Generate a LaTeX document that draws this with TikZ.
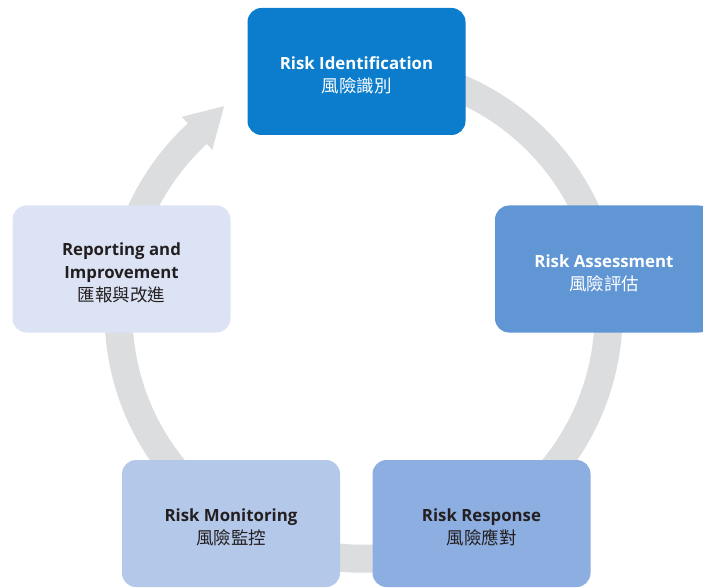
\documentclass[tikz,border=0pt]{standalone}
\usepackage{fontspec}
\setmainfont{Open Sans}
\newfontfamily\cjk{Noto Sans CJK TC}
\newcommand{\zh}{\cjk\fontsize{17.5}{23}\selectfont}
\newcommand{\stagetext}[2]{\rule{0pt}{21pt}#1\\\zh #2}
\usetikzlibrary{arrows.meta,calc}
\definecolor{identblue}{RGB}{11,125,204}
\definecolor{assessblue}{RGB}{96,150,212}
\definecolor{respondblue}{RGB}{141,174,224}
\definecolor{monitorblue}{RGB}{180,200,233}
\definecolor{reportblue}{RGB}{220,227,244}
\definecolor{ringgrey}{RGB}{220,221,223}
\definecolor{ink}{RGB}{35,31,32}
\begin{document}
\begin{tikzpicture}[x=1pt, y=1pt,
  stage/.style={rounded corners=14pt, minimum width=218pt, minimum height=127pt,
    inner sep=0pt, align=center, text=ink, font=\fontsize{16.8}{23}\selectfont},
  ring/.style={line width=28pt, ringgrey}]
\clip (0,0) rectangle (703,587);
\coordinate (hub) at (363.5,273.3);
% grey cycle with its arrow head
\draw[ring] (hub) ++(100:245) arc[start angle=100, end angle=-227.6, radius=245];
\fill[ringgrey] ($(hub)+(132.7:268)$) -- ($(hub)+(123.9:250)$) -- ($(hub)+(132.7:223)$) -- cycle;
% the five stages
\node[stage, fill=identblue, text=white] (ident) at (356.5,515.5) {\stagetext{\textbf{Risk Identification}}{風險識別}};
\node[stage, fill=assessblue, text=white] (assess) at (604,318) {\stagetext{\textbf{Risk Assessment}}{風險評估}};
\node[stage, fill=respondblue] (respond) at (481.5,63.5) {\stagetext{\textbf{Risk Response}}{風險應對}};
\node[stage, fill=monitorblue] (monitor) at (231,63.5) {\stagetext{\textbf{Risk Monitoring}}{風險監控}};
\node[stage, fill=reportblue] (report) at (121.5,318) {\stagetext{\textbf{Reporting and}\\\textbf{Improvement}}{匯報與改進}};
\end{tikzpicture}
\end{document}
